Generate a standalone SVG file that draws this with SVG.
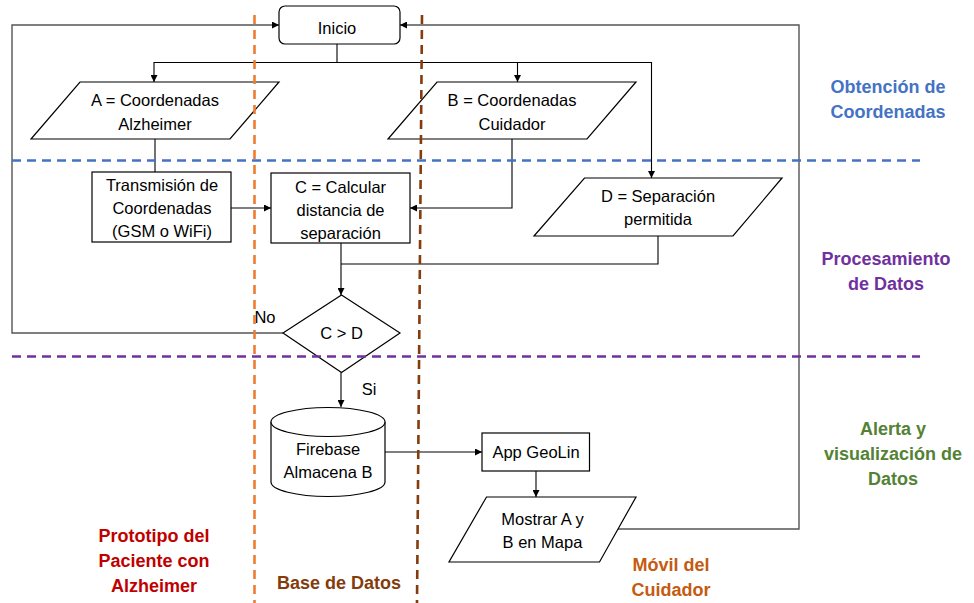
<svg xmlns="http://www.w3.org/2000/svg" width="974" height="603" viewBox="0 0 974 603">
<defs>
<marker id="arr" viewBox="0 0 10 10" refX="10" refY="5" markerWidth="7" markerHeight="7" markerUnits="userSpaceOnUse" orient="auto">
<path d="M0,0 L10,5 L0,10 z" fill="#000"/>
</marker>
<style>
.shape{fill:#fff;stroke:#000;stroke-width:1.2}
.t{font-family:"Liberation Sans",Arial,sans-serif;font-size:16.5px;fill:#000;text-anchor:middle}
.lbl{font-family:"Liberation Sans",Arial,sans-serif;font-size:18px;font-weight:bold;text-anchor:middle}
.conn{fill:none;stroke:#000;stroke-width:1.1}
.loop{fill:none;stroke:#555;stroke-width:1.4}
.dash{fill:none;stroke-width:2.6;stroke-dasharray:9,6}
</style>
</defs>
<rect width="974" height="603" fill="#fff"/>

<g id="connectors">
<path class="loop" d="M283,333 H12 V25 H279" marker-end="url(#arr)"/>
<path class="loop" d="M618,529 H799 V25 H400" marker-end="url(#arr)"/>
<path class="conn" d="M337,44 V62.5 H154 V82" marker-end="url(#arr)"/>
<path class="conn" d="M337,62.5 H517.5 V82" marker-end="url(#arr)"/>
<path class="conn" d="M517,62.5 H651.5 V178" marker-end="url(#arr)"/>
<path class="conn" d="M155,139 V172"/>
<path class="conn" d="M231,208 H271" marker-end="url(#arr)"/>
<path class="conn" d="M512,139 V208 H410" marker-end="url(#arr)"/>
<path class="conn" d="M341,243 V295" marker-end="url(#arr)"/>
<path class="conn" d="M658,236 V264 H341"/>
<path class="conn" d="M341,372.5 V407" marker-end="url(#arr)"/>
<path class="conn" d="M385,452 H482" marker-end="url(#arr)"/>
<path class="conn" d="M536,471 V497" marker-end="url(#arr)"/>
</g>

<g id="inicio">
<rect class="shape" x="279" y="6" width="121" height="38" rx="6"/>
<text class="t" x="337" y="33.5">Inicio</text>
</g>
<g id="nodeA">
<polygon class="shape" points="80,82 279,82 230,139 31,139"/>
<text class="t" x="155" y="106">A = Coordenadas</text>
<text class="t" x="155" y="130">Alzheimer</text>
</g>
<g id="nodeB">
<polygon class="shape" points="437,82 636,82 587,139 388,139"/>
<text class="t" x="512" y="106">B = Coordenadas</text>
<text class="t" x="512" y="130">Cuidador</text>
</g>
<g id="transmision">
<rect class="shape" x="92" y="172" width="139" height="70"/>
<text class="t" x="162" y="190.5">Transmisión de</text>
<text class="t" x="162" y="213.5">Coordenadas</text>
<text class="t" x="162" y="236.5">(GSM o WiFi)</text>
</g>
<g id="nodeC">
<rect class="shape" x="271" y="173" width="139" height="70"/>
<text class="t" x="340.5" y="192.5">C = Calcular</text>
<text class="t" x="340.5" y="215.5">distancia de</text>
<text class="t" x="340.5" y="238.5">separación</text>
</g>
<g id="nodeD">
<polygon class="shape" points="584.5,178 782,178 733,236 534,236"/>
<text class="t" x="658" y="202">D = Separación</text>
<text class="t" x="658" y="225">permitida</text>
</g>
<g id="decision">
<polygon class="shape" points="341.5,295 400,333 341.5,372.5 283,333"/>
<text class="t" x="341.5" y="339">C &gt; D</text>
<text class="t" x="265" y="323">No</text>
<text class="t" x="369" y="395">Si</text>
</g>
<g id="firebase">
<path class="shape" d="M271,422 A57,14.5 0 0 1 385,422 V482 A57,14.5 0 0 1 271,482 Z"/>
<path class="shape" d="M271,422 A57,14.5 0 0 0 385,422" fill="none"/>
<text class="t" x="328" y="455">Firebase</text>
<text class="t" x="328" y="478">Almacena B</text>
</g>
<g id="app">
<rect class="shape" x="482" y="433" width="107.5" height="38"/>
<text class="t" x="536" y="458">App GeoLin</text>
</g>
<g id="mostrar">
<polygon class="shape" points="486.5,497 636,497 599.5,562 449,562"/>
<text class="t" x="542.5" y="525">Mostrar A y</text>
<text class="t" x="542.5" y="548">B en Mapa</text>
</g>

<g id="separators">
<line class="dash" x1="12" y1="160.5" x2="920" y2="160.5" stroke="#4472C4"/>
<line class="dash" x1="12" y1="356.5" x2="920" y2="356.5" stroke="#7030A0"/>
<line class="dash" x1="254.5" y1="15" x2="254.5" y2="603" stroke="#ED7D31"/>
<line class="dash" x1="422" y1="15" x2="417" y2="603" stroke="#843C0C"/>
</g>

<g id="labels">
<text class="lbl" fill="#4472C4" x="888" y="93">Obtención de</text>
<text class="lbl" fill="#4472C4" x="888" y="118">Coordenadas</text>
<text class="lbl" fill="#7030A0" x="886" y="265">Procesamiento</text>
<text class="lbl" fill="#7030A0" x="886" y="290">de Datos</text>
<text class="lbl" fill="#548235" x="893" y="435">Alerta y</text>
<text class="lbl" fill="#548235" x="893" y="460">visualización de</text>
<text class="lbl" fill="#548235" x="893" y="485">Datos</text>
<text class="lbl" fill="#C00000" x="154" y="542">Prototipo del</text>
<text class="lbl" fill="#C00000" x="154" y="567">Paciente con</text>
<text class="lbl" fill="#C00000" x="154" y="592">Alzheimer</text>
<text class="lbl" fill="#843C0C" x="339" y="589">Base de Datos</text>
<text class="lbl" fill="#C55A11" x="671" y="571">Móvil del</text>
<text class="lbl" fill="#C55A11" x="671" y="596">Cuidador</text>
</g>
</svg>
